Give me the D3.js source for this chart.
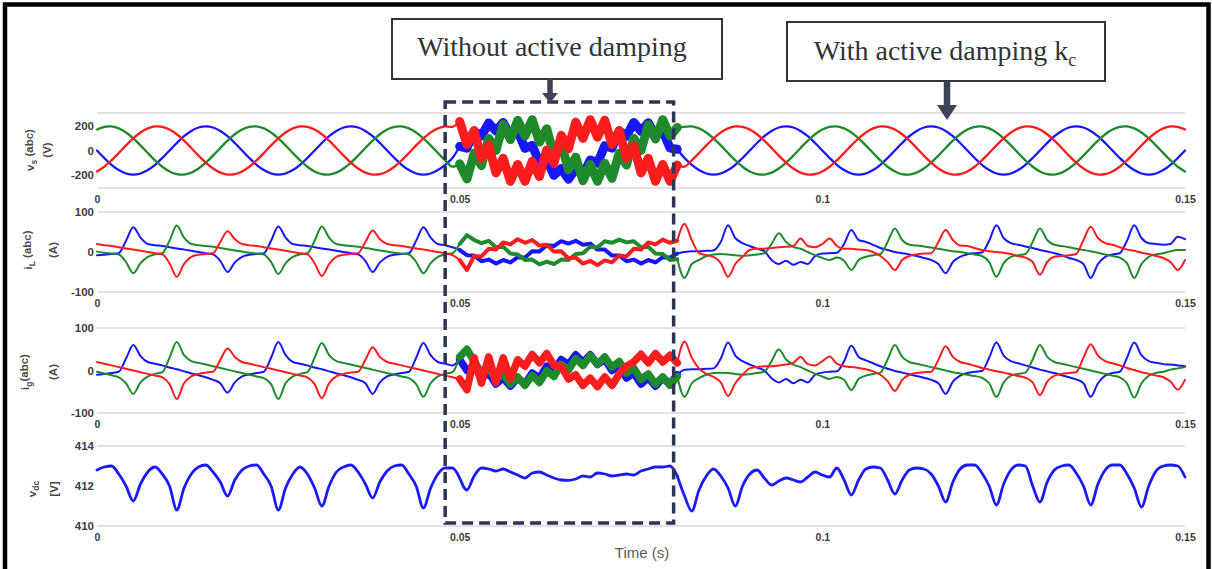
<!DOCTYPE html>
<html><head><meta charset="utf-8">
<script src="https://cdn.jsdelivr.net/npm/d3@7"></script>
<style>body{margin:0;background:#fff}svg{display:block}</style>
</head><body>
<svg id="chart" width="1212" height="569"></svg>
<script>
// ---------------- DATA ----------------
// sample times (ms)
const timeMs = [
0,1,2,3,4,5,6,7,8,9,10,11,12,13,14,15,16,17,18,19,
20,21,22,23,24,25,26,27,28,29,30,31,32,33,34,35,36,37,38,39,
40,41,42,43,44,45,46,47,48,49,50,51,52,53,54,55,56,57,58,59,
60,61,62,63,64,65,66,67,68,69,70,71,72,73,74,75,76,77,78,79,
80,81,82,83,84,85,86,87,88,89,90,91,92,93,94,95,96,97,98,99,
100,101,102,103,104,105,106,107,108,109,110,111,112,113,114,115,116,117,118,119,
120,121,122,123,124,125,126,127,128,129,130,131,132,133,134,135,136,137,138,139,
140,141,142,143,144,145,146,147,148,149,150];

// grid voltage vs(abc) [V]
const vsPhaseA = [
0,-62,-118,-162,-190,-200,-190,-162,-118,-62,0,62,118,162,190,200,190,162,118,62,
0,-62,-118,-162,-190,-200,-190,-162,-118,-62,0,62,118,162,190,200,190,162,118,62,
0,-62,-118,-162,-190,-200,-190,-162,-118,-62,
35,20,160,120,228,160,232,118,160,18,42,-100,-75,-205,-148,-238,-150,-205,-78,-105,40,20,162,118,232,158,230,120,160,20,10,
-62,-118,-162,-190,-200,-190,-162,-118,-62,0,62,118,162,190,200,190,162,118,62,
0,-62,-118,-162,-190,-200,-190,-162,-118,-62,0,62,118,162,190,200,190,162,118,62,
0,-62,-118,-162,-190,-200,-190,-162,-118,-62,0,62,118,162,190,200,190,162,118,62,
0,-62,-118,-162,-190,-200,-190,-162,-118,-62,0];
const vsPhaseB = [
173,196,199,183,149,100,42,-21,-81,-134,-173,-196,-199,-183,-149,-100,-42,21,81,134,
173,196,199,183,149,100,42,-21,-81,-134,-173,-196,-199,-183,-149,-100,-42,21,81,134,
173,196,199,183,149,100,42,-21,-81,-134,
-110,-235,-20,-125,100,0,215,90,250,120,255,70,180,-40,60,-160,-55,-250,-115,-255,-105,-230,-20,-120,100,0,212,95,255,120,190,
196,199,183,149,100,42,-21,-81,-134,-173,-196,-199,-183,-149,-100,-42,21,81,134,
173,196,199,183,149,100,42,-21,-81,-134,-173,-196,-199,-183,-149,-100,-42,21,81,134,
173,196,199,183,149,100,42,-21,-81,-134,-173,-196,-199,-183,-149,-100,-42,21,81,134,
173,196,199,183,149,100,42,-21,-81,-134,-173];
const vsPhaseC = [
-173,-134,-81,-21,42,100,149,183,199,196,173,134,81,21,-42,-100,-149,-183,-199,-196,
-173,-134,-81,-21,42,100,149,183,199,196,173,134,81,21,-42,-100,-149,-183,-199,-196,
-173,-134,-81,-21,42,100,149,183,199,196,
240,50,165,-65,45,-185,-65,-255,-115,-255,-90,-215,5,-105,125,15,235,100,255,110,250,50,165,-65,40,-185,-65,-255,-115,-255,-120,
-134,-81,-21,42,100,149,183,199,196,173,134,81,21,-42,-100,-149,-183,-199,-196,
-173,-134,-81,-21,42,100,149,183,199,196,173,134,81,21,-42,-100,-149,-183,-199,-196,
-173,-134,-81,-21,42,100,149,183,199,196,173,134,81,21,-42,-100,-149,-183,-199,-196,
-173,-134,-81,-21,42,100,149,183,199,196,173];

// converter-side current iL(abc) [A]
const iLPhaseA = [
-8,-7,-5,-3,28,62,36,20,17,15,12,9,6,3,0,-3,-6,-22,-50,-26,
-12,-7,-5,-3,28,64,36,20,17,15,12,9,6,3,0,-3,-6,-22,-50,-26,
-12,-7,-5,-3,28,62,36,20,17,12,
5,-8,-9,-23,-19,-29,-20,-26,-13,-14,2,1,17,15,27,21,28,18,21,6,6,-9,-9,-23,-19,-29,-20,-26,-13,-14,-4,
0,2,2,3,4,25,67,35,22,15,
8,2,-20,-30,-22,-32,-25,-30,-10,-4,
-3,-2,20,55,30,25,18,10,5,0,
-3,-6,-10,-15,-20,-30,-53,-25,-12,-6,
-3,-1,28,67,35,22,18,14,10,5,
1,-3,-8,-15,-20,-30,-65,-30,-12,-6,
-3,28,67,35,22,20,18,20,38,32];
const iLPhaseB = [
1,-2,-4,-6,-25,-53,-28,-12,-6,-3,
28,66,36,20,17,15,13,10,7,4,
1,-2,-4,-6,-25,-55,-28,-12,-6,-3,
28,64,36,20,17,15,13,10,7,4,
1,-2,-4,-6,-25,-53,-28,-12,-6,-3,
20,42,30,22,28,12,13,-4,-6,-20,-19,-31,-24,-30,-19,-20,-5,-3,13,12,27,23,31,24,27,12,13,-4,-5,-20,-18,
-65,-30,-20,-10,-6,-5,-6,-8,-10,-8,
-6,-3,20,47,25,13,8,0,-8,-15,
-20,-14,-22,-45,-20,-12,-8,-5,25,59,
30,18,16,14,11,8,5,2,0,-3,
-6,-10,-25,-62,-28,-12,-8,-5,25,59,
30,18,15,12,8,5,2,-2,-6,-10,
-14,-28,-65,-30,-12,-6,-3,2,5,5];
const iLPhaseC = [
20,17,15,12,9,6,3,0,-3,-6,
-28,-62,-30,-12,-7,-5,-3,25,52,32,
20,17,15,12,9,6,3,0,-3,-6,
-28,-60,-30,-12,-7,-5,-3,25,54,32,
20,17,15,12,9,6,3,0,-3,-8,
-20,-45,-10,-11,8,6,24,19,32,23,30,16,18,1,2,-16,-14,-29,-22,-33,-21,-26,-9,-11,8,6,24,19,31,23,28,
70,30,-3,-8,-12,-28,-62,-30,-12,5,
8,8,10,12,13,15,34,15,12,20,
34,15,8,8,6,5,0,-10,-25,-45,
-20,-10,-6,-4,-3,25,55,30,16,15,
10,5,2,0,-2,-5,-10,-14,-25,-57,
-25,-12,-10,-8,-5,30,63,35,22,18,
12,6,3,-2,-5,-10,-15,-25,-45,-20];

// grid-side current ig(abc) [A]
const igPhaseA = [
-10,-8,-6,-3,28,60,34,20,16,12,
7,3,-2,-7,-11,-16,-22,-30,-52,-28,
-14,-9,-6,-3,30,67,36,20,16,12,
7,3,-2,-7,-11,-16,-22,-30,-55,-28,
-14,-9,-6,-3,30,65,36,20,16,12,
26,0,10,-18,-6,-32,-17,-37,-17,-32,-6,-18,10,0,26,14,37,19,37,14,26,0,10,-18,-6,-32,-17,-37,-17,-32,-10,
2,3,3,4,5,28,66,35,22,14,
7,0,-18,-28,-20,-30,-22,-28,-10,-5,
-3,-2,22,58,32,24,17,10,4,-1,
-5,-9,-13,-17,-22,-30,-55,-26,-12,-6,
-3,-1,30,66,35,22,17,12,7,2,
-2,-6,-11,-16,-21,-30,-62,-30,-12,-6,
-3,30,66,36,22,18,15,14,12,10];
const igPhaseB = [
-3,-7,-11,-16,-30,-55,-28,-14,-8,-4,
30,67,36,22,18,14,10,6,2,-2,
-6,-10,-14,-18,-32,-67,-30,-14,-8,-4,
30,65,36,22,18,14,10,6,2,-2,
-6,-10,-14,-18,-32,-62,-30,-14,-8,-4,
32,50,21,-6,6,-21,-8,-32,-15,-35,-12,-28,-1,-14,14,1,28,12,35,15,32,8,21,-6,6,-21,-8,-32,-15,-35,-14,
-62,-30,-18,-10,-6,-5,-6,-8,-10,-8,
-6,-3,22,50,26,14,8,0,-8,-14,
-20,-15,-22,-46,-20,-12,-8,-5,26,60,
32,20,16,12,8,4,0,-4,-7,-10,
-13,-17,-30,-62,-28,-12,-8,-5,26,60,
32,20,16,12,8,4,0,-4,-8,-12,
-16,-30,-64,-30,-12,-6,-3,2,5,8];
const igPhaseC = [
20,16,12,8,4,0,-4,-8,-12,-16,
-32,-67,-30,-14,-8,-5,-3,25,52,32,
20,16,12,8,4,0,-4,-8,-12,-16,
-32,-65,-30,-14,-8,-5,-3,25,55,32,
20,16,12,8,4,0,-4,-8,-12,-16,
-20,-45,30,-30,32,-28,30,-20,25,10,38,18,40,12,10,-20,-10,-35,-18,-38,-15,-35,-8,10,20,38,18,40,20,36,18,
68,30,5,-8,-15,-28,-60,-30,-10,5,
8,10,10,12,14,18,32,15,12,22,
33,16,10,8,6,3,-2,-10,-25,-48,
-22,-10,-6,-4,-3,25,57,32,20,16,
11,6,2,-2,-5,-9,-13,-17,-28,-58,
-26,-12,-8,-6,-4,30,62,35,22,17,
12,6,1,-4,-8,-12,-16,-26,-45,-22];

// DC-link voltage vdc [V]
const vdc = [
412.8,412.95,413.0,412.6,412.0,411.25,412.1,412.7,412.95,412.6,
412.0,410.8,411.9,412.6,412.95,413.05,412.7,412.2,411.5,412.3,
412.8,413.0,413.05,412.6,412.0,410.8,411.9,412.6,412.95,412.6,
411.9,411.0,412.0,412.7,412.95,413.05,412.7,412.1,411.4,412.2,
412.75,413.0,413.05,412.6,412.0,410.9,411.9,412.6,412.9,412.9,
412.4,411.8,412.5,412.9,412.85,412.75,412.85,412.7,412.55,412.4,412.65,412.7,412.55,412.4,412.3,412.28,412.35,412.5,412.45,412.65,412.6,412.5,412.55,412.6,412.55,412.75,412.85,412.95,412.95,413.0,412.5,
411.5,410.75,411.8,412.5,412.85,412.5,411.9,411.0,412.0,412.6,
412.8,412.4,412.05,412.25,412.4,412.3,412.2,412.45,412.7,412.55,
412.45,412.9,412.3,411.55,412.3,412.85,412.95,412.9,412.3,411.6,
412.3,412.8,412.9,412.85,412.6,412.0,411.2,412.2,412.85,413.05,
413.05,412.65,412.0,411.05,412.1,412.8,413.05,413.0,412.0,411.2,
412.2,412.8,413.0,413.05,412.65,412.0,411.05,412.1,412.8,413.05,
413.05,412.6,411.9,410.95,412.0,412.75,413.0,413.05,413.0,412.45];

const xTickValues = [0, 50, 100, 150];
const xTickLabels = ["0", "0.05", "0.1", "0.15"];
const vsTicks = [-200, 0, 200];
const vsTickLabels = ["-200", "0", "200"];
const iTicks = [-100, 0, 100];
const iTickLabels = ["-100", "0", "100"];
const vdcTicks = [410, 412, 414];
const vdcTickLabels = ["410", "412", "414"];
const regimeBounds = [0, 50, 80, 150];      // ms: damped / without damping / with damping kc
const dampingOffWindow = [48, 79.5];        // ms, dashed highlight
const annotationLabels = ["Without active damping", "With active damping k", "c"];
const timeAxisLabel = "Time (s)";

// ---------------- DRAWING ----------------
const svg = d3.select("#chart");
svg.append("rect").attr("width", 1212).attr("height", 569).attr("fill", "#ffffff");

const x = d3.scaleLinear().domain([0, 150]).range([97, 1185]);
const phaseColors = ["#1616ff", "#1e8a2c", "#ff1c1c"];

const panels = [
  { top: 113, bottom: 188, domain: [-310, 310], series: [vsPhaseA, vsPhaseB, vsPhaseC], colors: phaseColors,
    ticks: vsTicks, tickLabels: vsTickLabels, title: ["v", "s", " (abc)", "(V)"], titleX: [30, 47], titleY: 150,
    widths: [2.3, 9, 2.3], curve: d3.curveCatmullRom },
  { top: 212, bottom: 292, domain: [-100, 100], series: [iLPhaseA, iLPhaseB, iLPhaseC], colors: phaseColors,
    ticks: iTicks, tickLabels: iTickLabels, title: ["i", "L", " (abc)", "(A)"], titleX: [28, 53], titleY: 250,
    widths: [2, 4, 2], curve: d3.curveMonotoneX },
  { top: 328, bottom: 413, domain: [-100, 100], series: [igPhaseA, igPhaseB, igPhaseC], colors: phaseColors,
    ticks: iTicks, tickLabels: iTickLabels, title: ["i", "g", "(abc)", "(A)"], titleX: [25, 53], titleY: 372,
    widths: [2, 7.5, 2], curve: d3.curveMonotoneX },
  { top: 446, bottom: 526, domain: [410, 414], series: [vdc], colors: ["#1a1aff"],
    ticks: vdcTicks, tickLabels: vdcTickLabels, title: ["v", "dc", "", "[V]"], titleX: [32, 54], titleY: 489,
    widths: [2.8, 2.8, 2.8], curve: d3.curveMonotoneX }
];

const segs = d3.pairs(regimeBounds);

panels.forEach(p => {
  const y = d3.scaleLinear().domain(p.domain).range([p.bottom, p.top]);
  const g = svg.append("g");

  // panel frame lines
  p.domain.forEach(v => {
    g.append("line").attr("x1", x(0)).attr("x2", x(150)).attr("y1", y(v)).attr("y2", y(v))
      .attr("stroke", "#c6c6c6").attr("stroke-width", 1.2);
  });

  // series
  p.series.forEach((vals, si) => {
    segs.forEach(([a, b], k) => {
      const idx = timeMs.map((t, i) => i).filter(i => timeMs[i] >= a && timeMs[i] <= b);
      const line = d3.line().x(i => x(timeMs[i])).y(i => y(vals[i]))
        .curve(k === 1 && p.series.length > 1 ? d3.curveLinear : p.curve);
      g.append("path").attr("d", line(idx)).attr("fill", "none")
        .attr("stroke", p.colors[si]).attr("stroke-width", p.widths[k])
        .attr("stroke-linejoin", "round").attr("stroke-linecap", "round");
    });
  });

  // y axis
  const ya = g.append("g").attr("transform", `translate(${x(0)},0)`)
    .call(d3.axisLeft(y).tickValues(p.ticks).tickFormat((d, i) => p.tickLabels[i]).tickSize(0).tickPadding(3));
  ya.select(".domain").remove();
  ya.selectAll("text").attr("font-family", "Arial, 'Liberation Sans', sans-serif").attr("font-size", 11.5)
    .attr("font-weight", "bold").attr("fill", "#3c3c3c");

  // x axis
  const xa = g.append("g").attr("transform", `translate(0,${p.bottom})`)
    .call(d3.axisBottom(x).tickValues(xTickValues).tickFormat((d, i) => xTickLabels[i]).tickSize(0).tickPadding(8));
  xa.select(".domain").remove();
  xa.selectAll("text").attr("font-family", "Arial, 'Liberation Sans', sans-serif").attr("font-size", 10.5)
    .attr("font-weight", "bold").attr("fill", "#3c3c3c");

  // rotated y title
  const t1 = g.append("text").attr("transform", `translate(${p.titleX[0]},${p.titleY}) rotate(-90)`)
    .attr("text-anchor", "middle").attr("dy", "0.35em")
    .attr("font-family", "Arial, 'Liberation Sans', sans-serif").attr("font-size", 11.5)
    .attr("font-weight", "bold").attr("fill", "#4a4a4a");
  t1.append("tspan").text(p.title[0]);
  t1.append("tspan").attr("dy", "0.3em").attr("font-size", 8.5).text(p.title[1]);
  t1.append("tspan").attr("dy", "-0.3em").text(p.title[2]);
  g.append("text").attr("transform", `translate(${p.titleX[1]},${p.titleY}) rotate(-90)`)
    .attr("text-anchor", "middle").attr("dy", "0.35em")
    .attr("font-family", "Arial, 'Liberation Sans', sans-serif").attr("font-size", 11.5)
    .attr("font-weight", "bold").attr("fill", "#4a4a4a").text(p.title[3]);
});

// time axis title
svg.append("text").attr("x", 642).attr("y", 558).attr("text-anchor", "middle")
  .attr("font-family", "Arial, 'Liberation Sans', sans-serif").attr("font-size", 15)
  .attr("fill", "#5a5a5a").text(timeAxisLabel);

// dashed highlight box
svg.append("rect").attr("x", x(dampingOffWindow[0])).attr("y", 102)
  .attr("width", x(dampingOffWindow[1]) - x(dampingOffWindow[0])).attr("height", 421)
  .attr("fill", "none").attr("stroke", "#2c3552").attr("stroke-width", 3.5).attr("stroke-dasharray", "11 6");

// annotation boxes
const ink = "#333333";
svg.append("rect").attr("x", 392).attr("y", 19).attr("width", 330).attr("height", 60)
  .attr("fill", "#fff").attr("stroke", ink).attr("stroke-width", 2);
svg.append("text").attr("x", 552).attr("y", 56).attr("text-anchor", "middle")
  .attr("font-family", "'Liberation Serif', 'Times New Roman', serif").attr("font-size", 28)
  .attr("fill", ink).text(annotationLabels[0]);

svg.append("rect").attr("x", 787).attr("y", 22).attr("width", 318).attr("height", 59)
  .attr("fill", "#fff").attr("stroke", ink).attr("stroke-width", 2);
const t2 = svg.append("text").attr("x", 945).attr("y", 60).attr("text-anchor", "middle")
  .attr("font-family", "'Liberation Serif', 'Times New Roman', serif").attr("font-size", 28).attr("fill", ink);
t2.append("tspan").text(annotationLabels[1]);
t2.append("tspan").attr("dy", 6).attr("font-size", 18).text(annotationLabels[2]);

// arrows
const arrowInk = "#3d4258";
svg.append("line").attr("x1", 550).attr("x2", 550).attr("y1", 79).attr("y2", 95)
  .attr("stroke", arrowInk).attr("stroke-width", 5.5);
svg.append("path").attr("d", "M542,93 L558,93 L550,103 Z").attr("fill", arrowInk);
svg.append("line").attr("x1", 947).attr("x2", 947).attr("y1", 81).attr("y2", 108)
  .attr("stroke", arrowInk).attr("stroke-width", 6.5);
svg.append("path").attr("d", "M937,105 L957,105 L947,120 Z").attr("fill", arrowInk);

// outer frame
svg.append("path").attr("d", "M5,575 V4.5 H1208.5 V575").attr("fill", "none")
  .attr("stroke", "#000").attr("stroke-width", 4.5);
</script>
</body></html>
